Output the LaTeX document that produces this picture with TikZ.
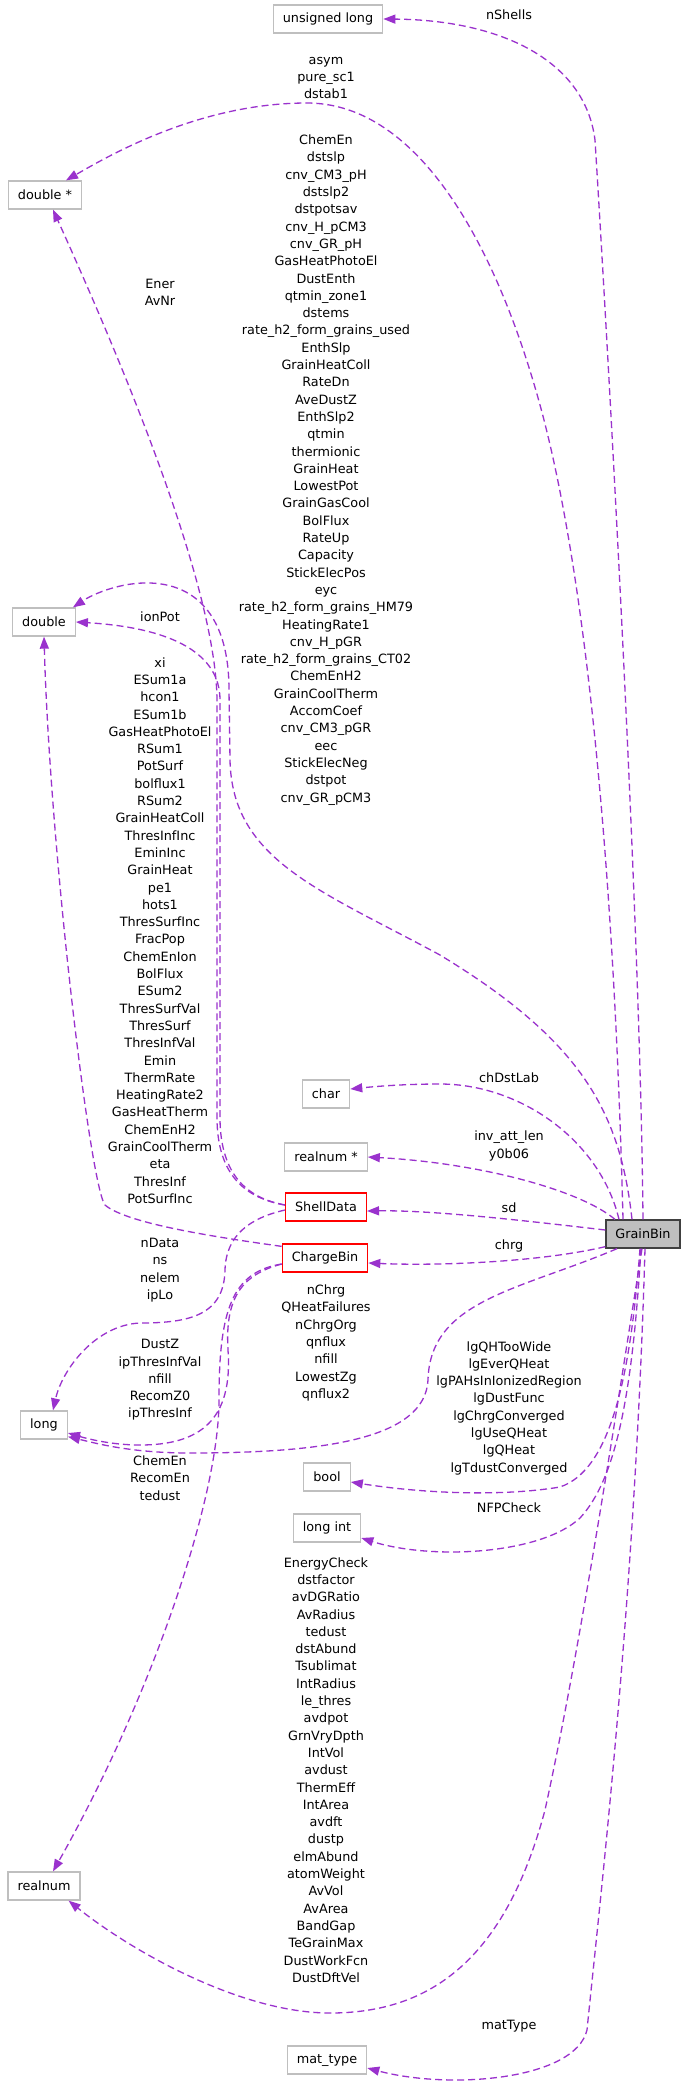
\documentclass[tikz,border=0pt]{standalone}
\usepackage{fontspec}
\setmainfont{DejaVu Sans}
\usetikzlibrary{arrows.meta}
\definecolor{edgec}{HTML}{9A32CD}
\definecolor{boxgray}{HTML}{BFBFBF}
\newcommand\lblfont{\fontsize{12.8pt}{17.3pt}\selectfont}
\begin{document}
\begin{tikzpicture}[x=1pt,y=-1pt,
  box/.style={draw=boxgray, line width=1.3pt, minimum height=28pt, inner xsep=9.5pt, inner ysep=0pt, font=\lblfont, fill=white},
  redbox/.style={box, draw=red},
  mainbox/.style={box, draw=black!75, fill=boxgray},
  edge/.style={draw=edgec, line width=1.3pt, dash pattern=on 7pt off 4pt, -{Triangle[length=12pt,width=9pt]}},
  lbl/.style={font=\lblfont, align=center, inner sep=0pt}]
\fill[white] (0,0) rectangle (685,2089);
\useasboundingbox (0,0) rectangle (685,2089);

% nodes
\node[box] (ul) at (328,19) {unsigned long};
\node[box] (dp) at (45,195) {double *};
\node[box] (dbl) at (44,622) {double};
\node[box] (ch) at (326,1094) {char};
\node[box] (rp) at (326,1157) {realnum *};
\node[redbox] (sd) at (326,1207) {ShellData};
\node[redbox] (cb) at (325,1258) {ChargeBin};
\node[mainbox] (gb) at (643,1234) {GrainBin};
\node[box] (lg) at (44,1425) {long};
\node[box] (bl) at (327,1477) {bool};
\node[box] (li) at (327,1528) {long int};
\node[box] (rn) at (44,1886) {realnum};
\node[box] (mt) at (327,2060) {mat\_type};

% labels
\node[lbl] (Lns) at (509,15) {nShells};
\node[lbl] (Lasym) at (326,78) {asym\\pure\_sc1\\dstab1};
\node[lbl] (Lbig) at (326,470) {ChemEn\\dstslp\\cnv\_CM3\_pH\\dstslp2\\dstpotsav\\cnv\_H\_pCM3\\cnv\_GR\_pH\\GasHeatPhotoEl\\DustEnth\\qtmin\_zone1\\dstems\\rate\_h2\_form\_grains\_used\\EnthSlp\\GrainHeatColl\\RateDn\\AveDustZ\\EnthSlp2\\qtmin\\thermionic\\GrainHeat\\LowestPot\\GrainGasCool\\BolFlux\\RateUp\\Capacity\\StickElecPos\\eyc\\rate\_h2\_form\_grains\_HM79\\HeatingRate1\\cnv\_H\_pGR\\rate\_h2\_form\_grains\_CT02\\ChemEnH2\\GrainCoolTherm\\AccomCoef\\cnv\_CM3\_pGR\\eec\\StickElecNeg\\dstpot\\cnv\_GR\_pCM3};
\node[lbl] (Lener) at (160,292) {Ener\\AvNr};
\node[lbl] (Lion) at (160,617) {ionPot};
\node[lbl] (Lxi) at (160,930.5) {xi\\ESum1a\\hcon1\\ESum1b\\GasHeatPhotoEl\\RSum1\\PotSurf\\bolflux1\\RSum2\\GrainHeatColl\\ThresInfInc\\EminInc\\GrainHeat\\pe1\\hots1\\ThresSurfInc\\FracPop\\ChemEnIon\\BolFlux\\ESum2\\ThresSurfVal\\ThresSurf\\ThresInfVal\\Emin\\ThermRate\\HeatingRate2\\GasHeatTherm\\ChemEnH2\\GrainCoolTherm\\eta\\ThresInf\\PotSurfInc};
\node[lbl] (Lch) at (509,1078) {chDstLab};
\node[lbl] (Linv) at (509,1146) {inv\_att\_len\\y0b06};
\node[lbl] (Lsd) at (509,1208) {sd};
\node[lbl] (Lchrg) at (509,1246) {chrg};
\node[lbl] (Lnd) at (160,1270) {nData\\ns\\nelem\\ipLo};
\node[lbl] (Lnchrg) at (326,1343) {nChrg\\QHeatFailures\\nChrgOrg\\qnflux\\nfill\\LowestZg\\qnflux2};
\node[lbl] (Ldz) at (160,1380) {DustZ\\ipThresInfVal\\nfill\\RecomZ0\\ipThresInf};
\node[lbl] (Llg) at (509,1408) {lgQHTooWide\\lgEverQHeat\\lgPAHsInIonizedRegion\\lgDustFunc\\lgChrgConverged\\lgUseQHeat\\lgQHeat\\lgTdustConverged};
\node[lbl] (Lce) at (160,1478) {ChemEn\\RecomEn\\tedust};
\node[lbl] (Lnfp) at (509,1508) {NFPCheck};
\node[lbl] (Lec) at (326,1770) {EnergyCheck\\dstfactor\\avDGRatio\\AvRadius\\tedust\\dstAbund\\Tsublimat\\IntRadius\\le\_thres\\avdpot\\GrnVryDpth\\IntVol\\avdust\\ThermEff\\IntArea\\avdft\\dustp\\elmAbund\\atomWeight\\AvVol\\AvArea\\BandGap\\TeGrainMax\\DustWorkFcn\\DustDftVel};
\node[lbl] (Lmt) at (509,2026) {matType};

% edges from GrainBin
\draw[edge] (gb.north) .. controls (640,900) and (605,300) .. (595,140) .. controls (585,60) and (500,20) .. (ul.east);
\draw[edge] ([xshift=-20pt]gb.north) .. controls (615,900) and (590,600) .. (544,420) .. controls (500,250) and (420,103) .. (307,103) .. controls (200,103) and (110,155) .. ([xshift=21pt]dp.north);
\draw[edge] ([xshift=-11pt]gb.north) .. controls (620,1110) and (580,1040) .. (440,955) .. controls (320,890) and (232,860) .. (230,760) -- (229,690) .. controls (229,600) and (180,575) .. (125,585) .. controls (105,589) and (90,596) .. ([xshift=-3pt]dbl.north east);
\draw[edge] ([xshift=-24pt]gb.north) .. controls (600,1140) and (520,1084) .. (440,1084) .. controls (400,1084) and (370,1087) .. ([yshift=5pt]ch.east);
\draw[edge] ([xshift=-28pt]gb.north) .. controls (580,1190) and (480,1163) .. (rp.east);
\draw[edge] ([yshift=4pt]gb.west) .. controls (520,1220) and (430,1210) .. ([yshift=-4pt]sd.east);
\draw[edge] ([yshift=2pt]gb.south west) .. controls (540,1262) and (440,1266) .. ([yshift=-5pt]cb.east);
\draw[edge] ([xshift=-26pt]gb.south) .. controls (520,1290) and (430,1300) .. (428,1380) .. controls (425,1440) and (320,1453) .. (190,1453) .. controls (130,1453) and (95,1443) .. ([yshift=3pt]lg.south east);
\draw[edge] ([xshift=-3pt]gb.south) .. controls (630,1380) and (610,1470) .. (560,1487) .. controls (500,1497) and (420,1493) .. ([yshift=-5pt]bl.east);
\draw[edge] ([xshift=-2pt]gb.south) .. controls (632,1400) and (615,1480) .. (580,1518) .. controls (540,1555) and (430,1560) .. ([yshift=-10pt]li.east);
\draw[edge] ([xshift=-1pt]gb.south) .. controls (615,1420) and (580,1650) .. (545,1810) .. controls (505,1960) and (430,2013) .. (330,2013) .. controls (240,2013) and (130,1950) .. ([xshift=-12pt]rn.south east);
\draw[edge] ([xshift=2pt]gb.south) .. controls (635,1600) and (600,1900) .. (587,2030) .. controls (575,2080) and (450,2090) .. ([yshift=-8pt]mt.east);

% edges from ShellData
\draw[edge] ([yshift=2pt]sd.west) .. controls (245,1198) and (218,1175) .. (217,1120) -- (217,700) .. controls (216,590) and (130,380) .. ([xshift=8pt]dp.south);
\draw[edge] ([yshift=2pt]sd.west) .. controls (247,1198) and (221,1175) .. (220,1120) -- (220,700) .. controls (220,655) and (175,628) .. (dbl.east);
\draw[edge] ([yshift=-3pt]sd.west) .. controls (250,1218) and (226,1235) .. (225,1270) .. controls (224,1315) and (190,1323) .. (140,1323) .. controls (95,1325) and (62,1370) .. ([xshift=9pt]lg.north);

% edges from ChargeBin
\draw[edge] ([yshift=-3pt]cb.north west) .. controls (200,1235) and (125,1222) .. (105,1205) .. controls (90,1185) and (50,850) .. (dbl.south);
\draw[edge] ([yshift=-6pt]cb.west) .. controls (240,1275) and (225,1300) .. (228,1350) .. controls (233,1420) and (200,1445) .. (140,1445) .. controls (110,1445) and (85,1438) .. ([yshift=-8pt]lg.east);
\draw[edge] ([yshift=-6pt]cb.west) .. controls (232,1272) and (219,1310) .. (219,1400) .. controls (219,1500) and (150,1700) .. ([xshift=9pt]rn.north);
\end{tikzpicture}
\end{document}
